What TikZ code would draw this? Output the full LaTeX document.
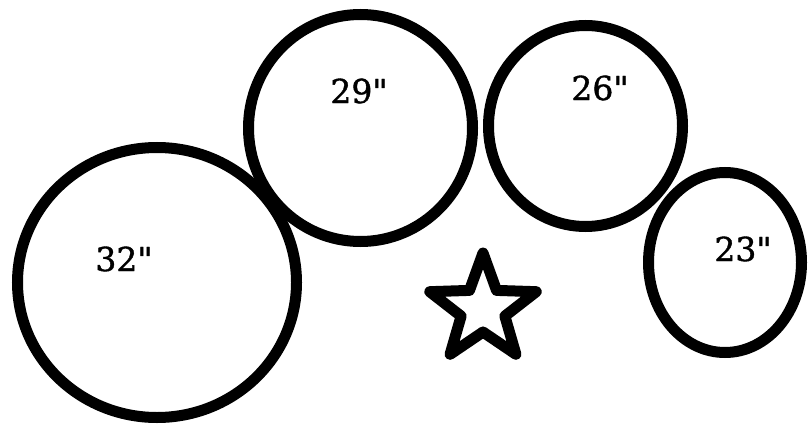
\documentclass[tikz,border=0pt]{standalone}
\usepackage{fontspec}
\newfontfamily\labelfont[FakeBold=1.2]{DejaVu Serif}
\begin{document}
\begin{tikzpicture}[x=1pt,y=-1pt,
  ring/.style={draw=black,line width=11pt},
  size/.style={inner sep=0pt,font=\labelfont\fontsize{33}{33}\selectfont},
  starline/.style={draw=black,line width=11pt,line join=round}]
\useasboundingbox (0,0) rectangle (808,425);
% circles
\draw[ring] (157,282.5) ellipse [x radius=139.5,y radius=135];
\draw[ring] (360.5,128) ellipse [x radius=112,y radius=113.5];
\draw[ring] (585.5,126) ellipse [x radius=97,y radius=100.5];
\draw[ring] (725,262.5) ellipse [x radius=76.5,y radius=90];
% labels
\node[size] (l32) at (124,259) {32"};
\node[size] (l29) at (359,91) {29"};
\node[size] (l26) at (600,88) {26"};
\node[size] (l23) at (743,249) {23"};
% star
\draw[starline] (483,309)
  +(90:-56) -- +(126:-23) -- +(162:-56) -- +(198:-23) -- +(234:-56)
  -- +(270:-23) -- +(306:-56) -- +(342:-23) -- +(18:-56) -- +(54:-23) -- cycle;
\end{tikzpicture}
\end{document}
